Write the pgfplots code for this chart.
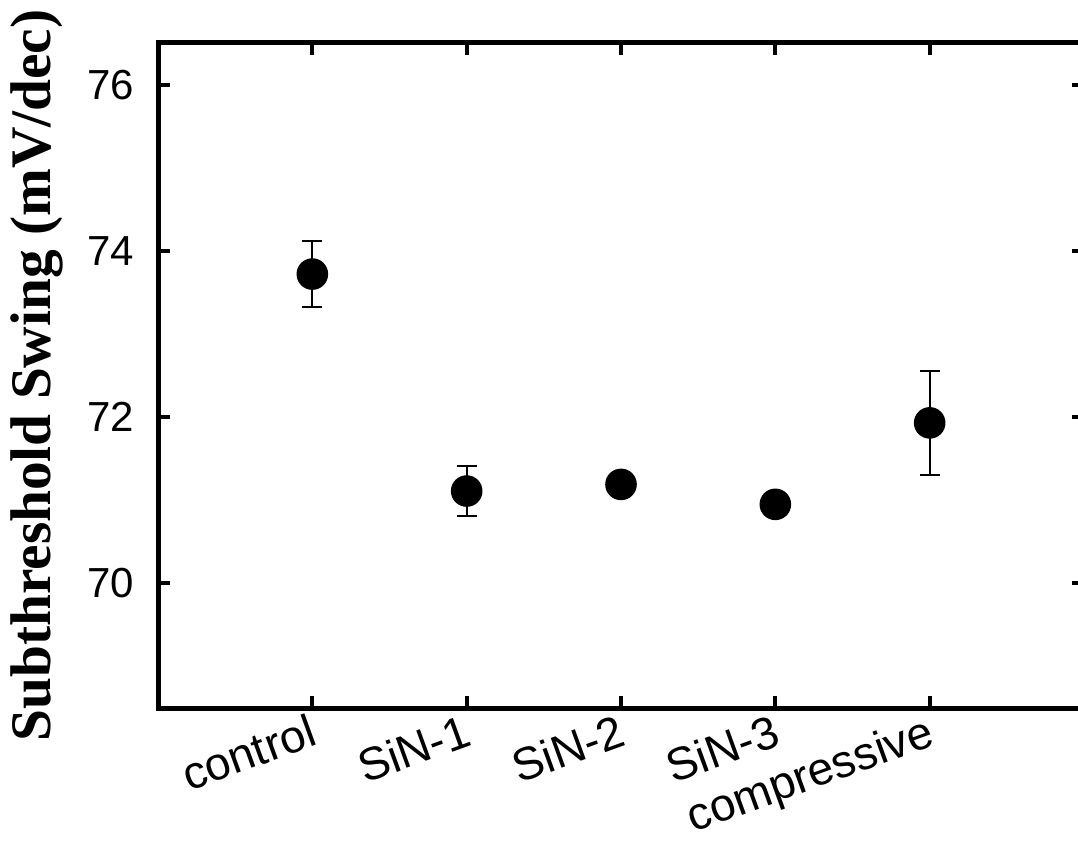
\documentclass[border=0pt]{standalone}
\usepackage{fontspec}
\setmainfont{Liberation Sans}
\newfontfamily\timesfont{Liberation Serif}
\usepackage{graphicx}
\usepackage{pgfplots}
\pgfplotsset{compat=1.18}

\begin{document}
\begin{tikzpicture}
\begin{axis}[
    scale only axis,
    width=231.5pt,
    height=166.25pt,
    xmin=0, xmax=6,
    ymin=68.5, ymax=76.5,
    axis line style={line width=1.25pt},
    tick style={line width=1pt, black},
    major tick length=3pt,
    tick align=inside,
    xtick={1,2,3,4,5},
    xticklabels={control,SiN-1,SiN-2,SiN-3,compressive},
    ytick={70,72,74,76},
    xticklabel style={rotate=20, anchor=north east, xshift=2pt, yshift=2.75pt,
        font=\fontsize{11.5}{13}\selectfont},
    yticklabel style={font=\fontsize{10.5}{12}\selectfont, xshift=-2.5pt},
    /pgf/number format/assume math mode=true,
    ylabel={\resizebox{183pt}{!}{\timesfont\bfseries Subthreshold Swing (mV/dec)}},
    ylabel style={at={(axis description cs:-0.116,0.5)}, anchor=base},
    clip=false,
]
% mean values with error bars
\addplot[only marks, mark=*, mark size=3.75pt, black,
    error bars/.cd, y dir=both, y explicit,
    error bar style={line width=0.5pt, black},
    error mark options={rotate=90, line width=0.5pt, mark size=2.5pt, black}]
coordinates {
    (1,73.72) +- (0,0.40)
    (2,71.11) +- (0,0.30)
    (3,71.19) +- (0,0)
    (4,70.95) +- (0,0)
    (5,71.93) +- (0,0.63)
};
\end{axis}
\pgfresetboundingbox
\path[use as bounding box] ([shift={(-39.5pt,-36pt)}]current axis.south west) rectangle ([shift={(-1.5pt,10.75pt)}]current axis.north east);
\end{tikzpicture}
\end{document}
